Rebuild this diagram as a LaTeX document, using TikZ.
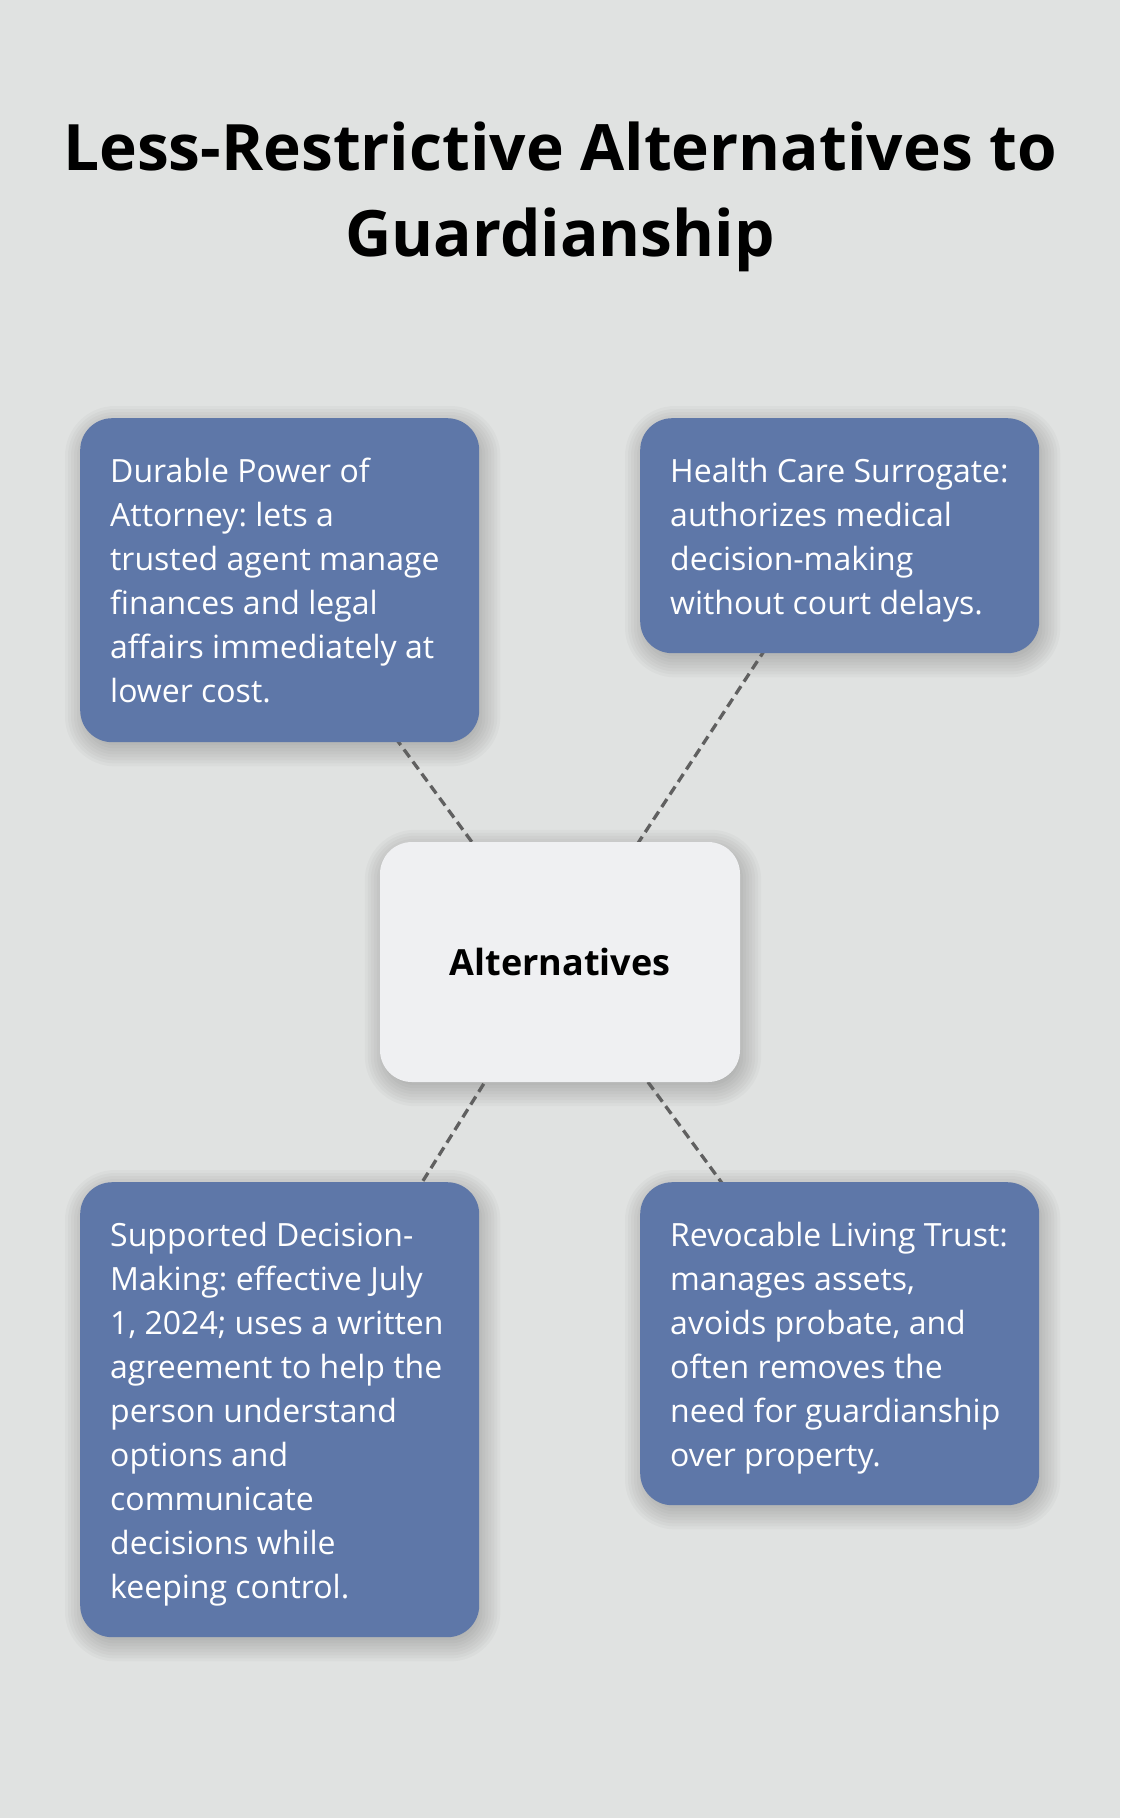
\documentclass[tikz,border=0pt]{standalone}
\usepackage{fontspec}
\setmainfont{Open Sans}
\frenchspacing

\definecolor{pagebg}{HTML}{E0E2E1}
\definecolor{cardblue}{HTML}{5E77A8}
\definecolor{hubfill}{HTML}{EFF0F2}
\definecolor{linkgray}{HTML}{606060}

\pgfdeclarelayer{canvas}
\pgfdeclarelayer{shade}
\pgfdeclarelayer{links}
\pgfsetlayers{canvas,shade,links,main}

% soft drop shadow built from stacked translucent rounded rectangles
\newcommand\softdrop[1]{%
  \begin{pgfonlayer}{shade}
    \foreach \e [evaluate=\e as \r using 32+\e] in {-6,-3,...,18}{
      \fill[black, fill opacity=0.022, rounded corners=\r pt]
        ([shift={(3-\e,6-\e)}]#1.north west) rectangle
        ([shift={(3+\e,6+\e)}]#1.south east);
    }
  \end{pgfonlayer}}

\begin{document}
\begin{tikzpicture}[x=1pt,y=-1pt,
  card/.style={rectangle, rounded corners=32pt, fill=cardblue, draw=none,
      minimum width=399pt, inner sep=0pt, anchor=north west},
  hub/.style={rectangle, rounded corners=32pt, fill=hubfill, draw=none,
      minimum width=360pt, minimum height=240pt, inner sep=0pt,
      font=\bfseries\fontsize{36}{44}\selectfont, text=black},
  cardtext/.style={anchor=base west, inner sep=0pt, align=left, text=white,
      font=\fontsize{32}{44}\selectfont},
  title/.style={anchor=base, inner sep=0pt, align=center, text=black,
      font=\bfseries\fontsize{64}{86}\selectfont},
  link/.style={draw=linkgray, line width=3.3pt, dash pattern=on 9.5pt off 5.5pt}]

  % page
  \begin{pgfonlayer}{canvas}
    \fill[pagebg] (0,0) rectangle (1120,1818);
  \end{pgfonlayer}
  \useasboundingbox (0,0) rectangle (1120,1818);

  % heading (anchored on the baseline of its last line)
  \node[title] (head) at (560,256) {Less-Restrictive Alternatives to\\Guardianship};

  % central hub
  \node[hub] (hub) at (560,962) {Alternatives};

  % the four option cards; text anchored on the baseline of its last line
  \node[card, minimum height=324pt] (poa) at (80,418) {};
  \node[cardtext] (poatext) at (110,702)
    {Durable Power of\\Attorney: lets a\\trusted agent manage\\finances and legal\\affairs immediately at\\lower cost.};

  \node[card, minimum height=235pt] (hcs) at (640,418) {};
  \node[cardtext] (hcstext) at (670,614)
    {Health Care Surrogate:\\authorizes medical\\decision-making\\without court delays.};

  \node[card, minimum height=455pt] (sdm) at (80,1182) {};
  \node[cardtext] (sdmtext) at (110,1598)
    {Supported Decision-\\Making: effective July\\1, 2024; uses a written\\agreement to help the\\person understand\\options and\\communicate\\decisions while\\keeping control.};

  \node[card, minimum height=323pt] (rlt) at (640,1182) {};
  \node[cardtext] (rlttext) at (670,1466)
    {Revocable Living Trust:\\manages assets,\\avoids probate, and\\often removes the\\need for guardianship\\over property.};

  % shadows under every box
  \softdrop{hub}
  \softdrop{poa}
  \softdrop{hcs}
  \softdrop{sdm}
  \softdrop{rlt}

  % dashed connectors, running centre to centre beneath the boxes
  \begin{pgfonlayer}{links}
    \draw[link] (poa.center) -- (hub.center);
    \draw[link] (hcs.center) -- (hub.center);
    \draw[link] (sdm.center) -- (hub.center);
    \draw[link] (rlt.center) -- (hub.center);
  \end{pgfonlayer}
\end{tikzpicture}
\end{document}
